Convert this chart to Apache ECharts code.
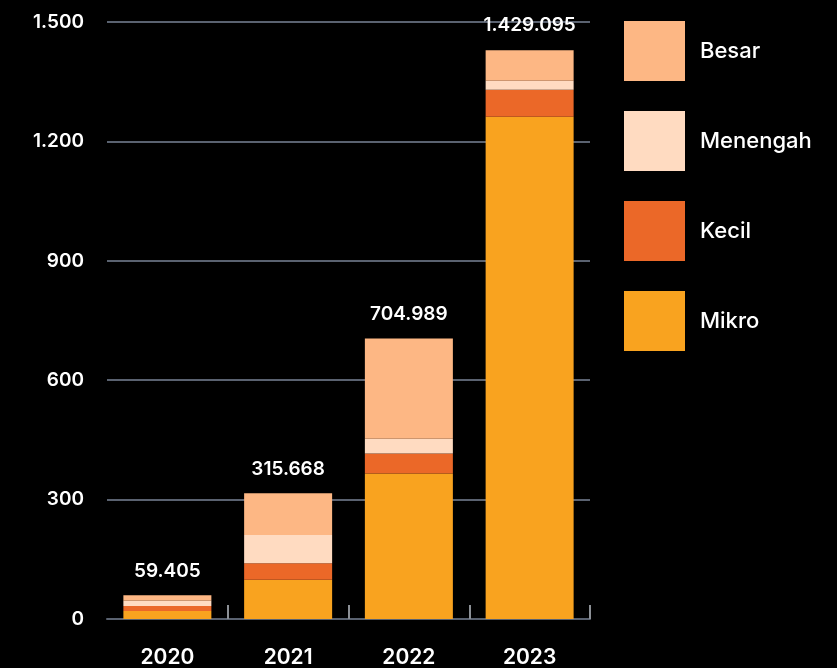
<!DOCTYPE html>
<html>
<head>
<meta charset="utf-8">
<style>
  html, body { margin: 0; padding: 0; background: #000; }
  #chart { width: 837px; height: 668px; }
</style>
<script src="https://cdn.jsdelivr.net/npm/echarts@6/dist/echarts.min.js"></script>
</head>
<body>
<div id="chart"></div>
<script>
// Years on the category axis
const years = ['2020', '2021', '2022', '2023'];

// Values per business size (thousands)
const mikro    = [20.0, 98.4, 365.6, 1262.2];
const kecil    = [12.5, 41.7, 50.0, 67.6];
const menengah = [13.3, 71.0, 37.6, 22.5];
const besar    = [13.605, 104.568, 251.789, 76.795];

// Value axis ticks
const yTicks = [0, 300, 600, 900, 1200, 1500];

const colors = {
  Mikro: '#F9A31F',
  Kecil: '#EB6828',
  Menengah: '#FFDBC1',
  Besar: '#FDB784'
};

const totals = years.map((_, i) => mikro[i] + kecil[i] + menengah[i] + besar[i]);

// 1429.095 -> "1.429.095", 1500 -> "1.500"
function dotted(n) {
  const s = String(Math.round(n));
  return s.replace(/\B(?=(\d{3})+(?!\d))/g, '.');
}

const FONT = 'Inter';

const chart = echarts.init(document.getElementById('chart'));

const series = [
  { name: 'Mikro', data: mikro },
  { name: 'Kecil', data: kecil },
  { name: 'Menengah', data: menengah },
  { name: 'Besar', data: besar }
].map(s => ({
  name: s.name,
  type: 'bar',
  stack: 'total',
  barWidth: 88,
  data: s.data,
  itemStyle: { color: colors[s.name], borderWidth: 0 },
  emphasis: { disabled: true }
}));

// Totals printed above each stack
series[3].label = {
  show: true,
  position: 'top',
  distance: 15,
  color: '#ffffff',
  fontFamily: FONT,
  fontSize: 19,
  fontWeight: 600,
  formatter: p => dotted(totals[p.dataIndex] * 1000)
};

chart.setOption({
  backgroundColor: '#000000',
  animation: false,
  grid: { left: 107, right: 247, top: 22, bottom: 47 },
  legend: {
    data: ['Besar', 'Menengah', 'Kecil', 'Mikro'],
    orient: 'vertical',
    left: 624,
    top: 21,
    padding: 0,
    itemWidth: 61,
    itemHeight: 60,
    itemGap: 30,
    icon: 'rect',
    selectedMode: false,
    textStyle: {
      color: '#ffffff',
      fontFamily: FONT,
      fontSize: 22,
      fontWeight: 500,
      padding: [0, 0, 0, 10]
    }
  },
  xAxis: {
    type: 'category',
    data: years,
    axisLine: { lineStyle: { color: '#5A6270', width: 2 } },
    axisTick: {
      show: true,
      inside: true,
      length: 14,
      interval: function (index) { return index > 0; },
      lineStyle: { color: '#8C9096', width: 2 }
    },
    axisLabel: {
      color: '#ffffff',
      fontFamily: FONT,
      fontSize: 21,
      fontWeight: 600,
      margin: 28
    }
  },
  yAxis: {
    type: 'value',
    min: yTicks[0],
    max: yTicks[yTicks.length - 1],
    interval: yTicks[1] - yTicks[0],
    axisLine: { show: false },
    axisTick: { show: false },
    splitLine: { lineStyle: { color: '#5A6270', width: 2 } },
    axisLabel: {
      color: '#ffffff',
      fontFamily: FONT,
      fontSize: 19,
      fontWeight: 600,
      margin: 23,
      formatter: v => dotted(v)
    }
  },
  series: series
});
</script>
</body>
</html>
